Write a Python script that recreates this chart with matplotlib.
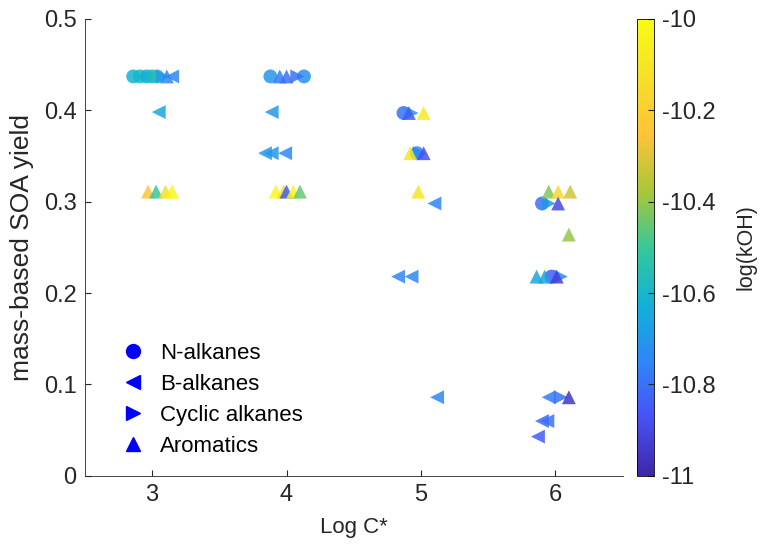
import numpy as np
import matplotlib.pyplot as plt
from matplotlib.colors import LinearSegmentedColormap
from matplotlib.lines import Line2D

plt.rcParams['font.family'] = ['Liberation Sans', 'DejaVu Sans']

# approximate MATLAB parula
parula_pts = [
    (0.2422, 0.1504, 0.6603),
    (0.2810, 0.3228, 0.9579),
    (0.1786, 0.5289, 0.9682),
    (0.0689, 0.6948, 0.8394),
    (0.2161, 0.7843, 0.5923),
    (0.6720, 0.7793, 0.2227),
    (0.9970, 0.7659, 0.2199),
    (0.9627, 0.8776, 0.1591),
    (0.9769, 0.9839, 0.0805),
]
parula = LinearSegmentedColormap.from_list('parula', parula_pts)

# N-alkanes
n_x = [2.86, 2.91, 2.96, 3.00, 3.04, 3.88, 4.13, 4.87, 4.97, 5.90, 5.97]
n_y = [0.437, 0.437, 0.437, 0.437, 0.437, 0.437, 0.437, 0.397, 0.353, 0.298, 0.218]
n_c = [-10.62, -10.6, -10.63, -10.6, -10.55, -10.7, -10.72, -10.8, -10.75, -10.8, -10.85]

# B-alkanes
b_x = [3.15, 3.05, 3.89, 3.84, 3.89, 3.99, 5.10, 4.83, 4.93, 5.12, 5.95, 5.90, 5.94, 5.87]
b_y = [0.437, 0.398, 0.398, 0.353, 0.353, 0.353, 0.298, 0.218, 0.218, 0.086, 0.086, 0.060, 0.060, 0.043]
b_c = [-10.75, -10.65, -10.7, -10.7, -10.7, -10.75, -10.75, -10.75, -10.75, -10.75, -10.78, -10.82, -10.8, -10.85]

# Cyclic alkanes
c_x = [3.08, 4.08, 4.93, 4.99, 5.95, 6.04, 6.04]
c_y = [0.437, 0.437, 0.397, 0.353, 0.298, 0.218, 0.086]
c_c = [-10.7, -10.8, -10.7, -10.75, -10.7, -10.75, -10.8]

# Aromatics
a_x = [3.11, 2.97, 3.03, 3.10, 3.15, 3.95, 4.00, 3.92, 3.98, 4.00, 4.05, 4.10,
       4.91, 5.02, 4.92, 5.02, 4.98, 5.95, 6.02, 6.11, 6.02, 6.10, 5.86, 5.92, 6.01, 6.10]
a_y = [0.437, 0.311, 0.311, 0.311, 0.311, 0.437, 0.437, 0.311, 0.311, 0.311, 0.311, 0.311,
       0.397, 0.397, 0.353, 0.353, 0.311, 0.311, 0.311, 0.311, 0.298, 0.264, 0.218, 0.218, 0.218, 0.086]
a_c = [-10.75, -10.25, -10.5, -10.12, -10.02, -10.78, -10.8, -10.02, -10.15, -10.85, -10.02, -10.45,
       -10.85, -10.08, -10.1, -10.88, -10.1, -10.42, -10.15, -10.32, -10.9, -10.4, -10.65, -10.65, -10.92, -10.95]

labels = ['N-alkanes', 'B-alkanes', 'Cyclic alkanes', 'Aromatics']

fig = plt.figure(figsize=(7.64, 5.54), dpi=100)
ax = fig.add_axes([0.111, 0.141, 0.704, 0.825])
cax = fig.add_axes([0.834, 0.141, 0.022, 0.825])

kw = dict(cmap=parula, vmin=-11, vmax=-10, s=100, alpha=0.85, edgecolors='none')
sc = ax.scatter(n_x, n_y, c=n_c, marker='o', **kw)
ax.scatter(b_x, b_y, c=b_c, marker='<', **kw)
ax.scatter(c_x, c_y, c=c_c, marker='>', **kw)
ax.scatter(a_x, a_y, c=a_c, marker='^', **kw)

ax.set_xlim(2.5, 6.5)
ax.set_ylim(0, 0.5)
ax.set_xticks([3, 4, 5, 6])
ax.set_yticks(np.arange(0, 0.51, 0.1))
ax.set_yticklabels(['0', '0.1', '0.2', '0.3', '0.4', '0.5'])
ax.tick_params(labelsize=17, direction='in', length=4, pad=6, colors='#262626')
for s in ax.spines.values():
    s.set_color('#262626')
    s.set_linewidth(0.6)
ax.spines['top'].set_visible(False)
ax.spines['right'].set_visible(False)
ax.set_xlabel('Log C*', fontsize=16, color='#262626', labelpad=8)
ax.set_ylabel('mass-based SOA yield', fontsize=19, color='#262626', labelpad=7)

handles = [Line2D([], [], ls='none', marker=m, color='#0000ff', markersize=10)
           for m in ['o', '<', '>', '^']]
ax.legend(handles, labels, loc='upper left', bbox_to_anchor=(0.03, 0.33),
          frameon=False, fontsize=16, labelspacing=0.45, handletextpad=0.55,
          handlelength=1.3, borderpad=0.3)

cb = fig.colorbar(sc, cax=cax)
cb.solids.set_alpha(1)
cb.set_ticks([-11, -10.8, -10.6, -10.4, -10.2, -10])
cb.set_ticklabels(['-11', '-10.8', '-10.6', '-10.4', '-10.2', '-10'])
cb.ax.tick_params(labelsize=17, direction='in', length=4, pad=6, colors='#262626')
cb.outline.set_linewidth(0.6)
cb.set_label('log(kOH)', fontsize=15.5, color='#262626', labelpad=14)

fig.savefig('out.png', dpi=100)
